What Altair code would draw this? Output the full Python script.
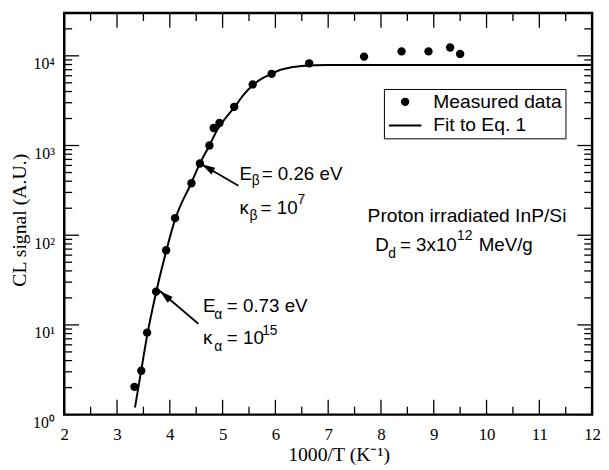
import math
import altair as alt
import pandas as pd

# ---------------- data ----------------
meas_x = [3.33, 3.46, 3.57, 3.74, 3.93, 4.10, 4.41, 4.57, 4.75, 4.83, 4.94,
          5.22, 5.57, 5.93, 6.64, 7.68, 8.39, 8.90, 9.31, 9.50]
meas_y = [2.04, 3.08, 8.2, 23.5, 68, 155, 380, 630, 1000, 1570, 1780,
          2700, 4800, 6300, 8250, 9800, 11200, 11200, 12400, 10500]

fit_x = [3.34, 3.45, 3.57, 3.74, 3.93, 4.10, 4.40, 4.57, 4.75, 4.90, 5.05,
         5.22, 5.40, 5.57, 5.75, 5.93, 6.10, 6.30, 6.50, 6.75, 7.0, 8.0, 12.0]
fit_y = [1.2, 2.9, 7.6, 23, 66, 150, 375, 630, 1000, 1500, 2000,
         2650, 3700, 4700, 5600, 6300, 7000, 7450, 7700, 7850, 7900, 7900, 7900]

series_names = ["Measured data", "Fit to Eq. 1"]

x_major = list(range(2, 13))
x_minor = [2.5 + i for i in range(10)]
y_major = [1, 10, 100, 1000, 10000]
y_minor = [m * 10 ** k for k in range(5) for m in range(2, 10) if m * 10 ** k < 30000]

arrow_tail_x = [5.30, 4.54]
arrow_tail_y = [357, 10.3]
arrow_tip_x = [4.60, 3.81]
arrow_tip_y = [618, 23.9]

main_text = ["E", "= 0.26 eV", "κ", "= 10", "E", "= 0.73 eV", "κ", "= 10",
             "D", "= 3x10", "MeV/g"]
main_x = [5.32, 5.74, 5.32, 5.72, 4.63, 5.08, 4.63, 5.08, 7.89, 8.36, 9.85]
main_y = [415, 415, 174, 174, 13.8, 13.8, 6.2, 6.2, 66.2, 66.2, 66.2]

small_text = ["β", "β", "7", "α", "α", "15", "d", "12"]
small_x = [5.55, 5.51, 6.42, 4.84, 4.84, 5.75, 8.14, 9.44]
small_y = [366, 149, 223, 11.7, 5.06, 7.69, 56.1, 87.5]

center_text = ["Proton irradiated InP/Si"]
center_x = [9.63]
center_y = [139]

# ---------------- layout ----------------
W, H = 535, 407
XD = [2, 12]
YD = [1, 30000]
TMAJ, TMIN = 15, 8
SANS = "Liberation Sans"
SERIF = "Liberation Serif"
LINE_SYMBOL = "M-1,-0.065 L1,-0.065 L1,0.065 L-1,0.065 Z"

xs = alt.Scale(domain=XD, nice=False, zero=False)
ys = alt.Scale(type="log", domain=YD, nice=False)

xaxis = alt.Axis(values=x_major, format="d", title="1000/T (K⁻¹)",
                 labelFont=SERIF, labelFontSize=17, labelColor="black",
                 labelPadding=12, labelFlush=False, labelOverlap=False,
                 ticks=False, tickSize=0, domain=False, grid=False,
                 titleFont=SERIF, titleFontSize=20, titleFontWeight="normal",
                 titleColor="black", titleX=278, titleY=47,
                 titleBaseline="alphabetic", titleAlign="center")
yaxis = alt.Axis(values=y_major,
                 labelExpr="'10' + (['⁰','¹','²','³','⁴'])[round(log(datum.value)/LN10)]",
                 title="CL signal (A.U.)",
                 labelFont=SERIF, labelFontSize=16, labelColor="black",
                 labelPadding=10, labelBaseline="alphabetic", labelOffset=13,
                 labelFlush=False, labelOverlap=False,
                 ticks=False, tickSize=0, domain=False, grid=False,
                 titleFont=SERIF, titleFontSize=20, titleFontWeight="normal",
                 titleColor="black", titleX=-45, titleY=H / 2 + 6,
                 titleBaseline="middle", titleAlign="center")

legend = alt.Legend(title=None, orient="none", legendX=324, legendY=77,
                    direction="vertical", labelFont=SANS, labelFontSize=19.5,
                    labelColor="black", strokeColor="black", fillColor="white",
                    padding=3, rowPadding=4, labelOffset=12, clipHeight=20,
                    symbolOffset=2, symbolStrokeWidth=0,
                    symbolFillColor="black")

X = lambda f: alt.X(f, scale=xs, axis=xaxis)
Y = lambda f: alt.Y(f, scale=ys, axis=yaxis)

# ---------------- layers ----------------
meas_df = pd.DataFrame({"x": meas_x, "y": meas_y, "series": series_names[0]})
fit_df = pd.DataFrame({"x": fit_x, "y": fit_y})

points = alt.Chart(meas_df).mark_point(filled=True, color="black", opacity=1).encode(
    x=X("x:Q"),
    y=Y("y:Q"),
    shape=alt.Shape("series:O",
                    scale=alt.Scale(domain=series_names, range=["circle", LINE_SYMBOL]),
                    legend=legend),
    size=alt.Size("series:O", scale=alt.Scale(domain=series_names, range=[72, 1089]),
                  legend=legend),
)

fit = alt.Chart(fit_df).mark_line(color="black", strokeWidth=2, interpolate="monotone").encode(
    x=X("x:Q"), y=Y("y:Q"),
)


def xticks(vals, top, length):
    y0 = 0 if top else H
    y1 = length if top else H - length
    return alt.Chart(pd.DataFrame({"v": vals})).mark_rule(color="black", strokeWidth=1.3).encode(
        x=X("v:Q"), y=alt.value(y0), y2=alt.value(y1))


def yticks(vals, right, length):
    x0 = W if right else 0
    x1 = W - length if right else length
    return alt.Chart(pd.DataFrame({"v": vals})).mark_rule(color="black", strokeWidth=1.3).encode(
        y=Y("v:Q"), x=alt.value(x0), x2=alt.value(x1))


ticks = [xticks(x_major, False, TMAJ), xticks(x_minor, False, TMIN),
         xticks(x_major, True, TMAJ), xticks(x_minor, True, TMIN),
         yticks(y_major, False, TMAJ), yticks(y_minor, False, TMIN),
         yticks(y_major, True, TMAJ), yticks(y_minor, True, TMIN)]


def px(x):
    return (x - XD[0]) / (XD[1] - XD[0]) * W


def py(y):
    return H - math.log10(y / YD[0]) / math.log10(YD[1] / YD[0]) * H


arrow_ang = [math.degrees(math.atan2(px(hx) - px(tx), -(py(hy) - py(ty))))
             for tx, ty, hx, hy in zip(arrow_tail_x, arrow_tail_y, arrow_tip_x, arrow_tip_y)]
arr_df = pd.DataFrame({"tx": arrow_tail_x, "ty": arrow_tail_y,
                       "hx": arrow_tip_x, "hy": arrow_tip_y, "ang": arrow_ang})

arrow_lines = alt.Chart(arr_df).mark_rule(color="black", strokeWidth=1.8).encode(
    x=X("tx:Q"), y=Y("ty:Q"), x2="hx:Q", y2="hy:Q")
arrow_heads = alt.Chart(arr_df).mark_point(
    shape="M0,0 L0.45,1.6 L-0.45,1.6 Z", filled=True, color="black", size=300, opacity=1
).encode(
    x=X("hx:Q"), y=Y("hy:Q"),
    angle=alt.Angle("ang:Q", scale=None))

main_df = pd.DataFrame({"t": main_text, "x": main_x, "y": main_y})
small_df = pd.DataFrame({"t": small_text, "x": small_x, "y": small_y})
center_df = pd.DataFrame({"t": center_text, "x": center_x, "y": center_y})

txt_main = alt.Chart(main_df).mark_text(align="left", baseline="alphabetic", font=SANS,
                                        fontSize=19, color="black").encode(
    x=X("x:Q"), y=Y("y:Q"), text="t:N")
txt_small = alt.Chart(small_df).mark_text(align="left", baseline="alphabetic", font=SANS,
                                          fontSize=14, color="black").encode(
    x=X("x:Q"), y=Y("y:Q"), text="t:N")
txt_center = alt.Chart(center_df).mark_text(align="center", baseline="alphabetic", font=SANS,
                                            fontSize=19.5, color="black").encode(
    x=X("x:Q"), y=Y("y:Q"), text="t:N")

chart = alt.layer(
    *ticks, fit, points, arrow_lines, arrow_heads, txt_main, txt_small, txt_center
).properties(
    width=W, height=H,
    autosize=alt.AutoSizeParams(type="none"),
    padding={"left": 57, "top": 2, "right": 9, "bottom": 50},
).configure_view(stroke="black", strokeWidth=2.5)

chart.save("out.html", embed_options={"renderer": "svg", "actions": False})
